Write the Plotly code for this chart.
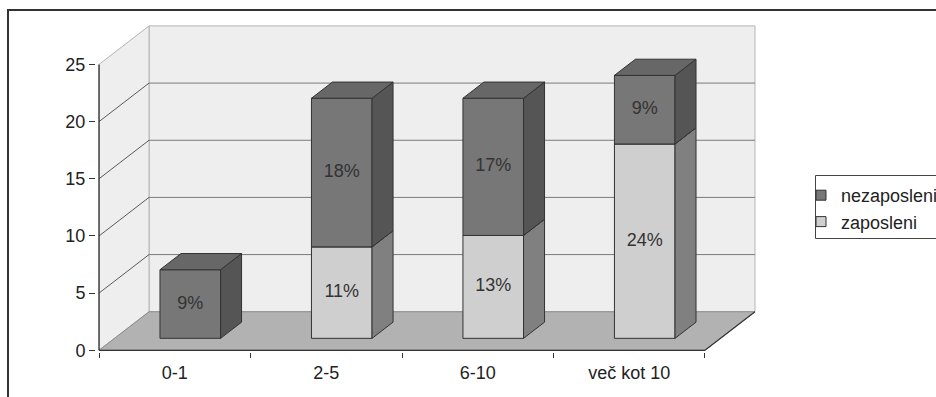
import plotly.graph_objects as go

# ---- data -------------------------------------------------------------
categories = ["0-1", "2-5", "6-10", "več kot 10"]
zaposleni = [0, 8, 9, 17]
nezaposleni = [6, 13, 12, 6]
pct_zaposleni = [None, 11, 13, 24]
pct_nezaposleni = [9, 18, 17, 9]
y_ticks = [0, 5, 10, 15, 20, 25]
y_max = 25

# ---- oblique 3-D projection settings ---------------------------------
OX = 0.33      # depth shift along x (category units)
OY = 3.37      # depth shift along y (value units)
F_FRONT = 0.31  # depth of the bars' front plane
F_BACK = 0.73   # depth of the bars' back plane
BAR_W = 0.40
X_LO, X_HI = -0.5, len(categories) - 0.5

FONT = "Liberation Sans, Arial, sans-serif"
EDGE = "#333333"

# page geometry (pixels)
W, H = 936, 397
ML, MR, MT, MB = 96, 178, 25, 45
PW, PH = W - ML - MR, H - MT - MB


def px_to_paper_x(px):
    return (px - ML) / PW


def px_to_paper_y(py):
    return (H - MB - py) / PH


styles = {
    "nezaposleni": dict(front="#777777", side="#555555", top="#676767"),
    "zaposleni": dict(front="#cfcfcf", side="#808080", top="#a8a8a8"),
}

fig = go.Figure()


def poly(xs, ys, fill, line_color=EDGE, width=1.0):
    fig.add_trace(go.Scatter(
        x=list(xs) + [xs[0]], y=list(ys) + [ys[0]],
        mode="lines", fill="toself", fillcolor=fill,
        line=dict(color=line_color, width=width),
        hoverinfo="skip", showlegend=False))


def seg(x0, y0, x1, y1, color, width=1.0):
    fig.add_trace(go.Scatter(
        x=[x0, x1], y=[y0, y1], mode="lines",
        line=dict(color=color, width=width),
        hoverinfo="skip", showlegend=False))


# walls and floor
poly([X_LO + OX, X_HI + OX, X_HI + OX, X_LO + OX],
     [OY, OY, y_max + OY, y_max + OY], "#eeeeee", "#b4b4b4")
poly([X_LO, X_LO + OX, X_LO + OX, X_LO],
     [0, OY, y_max + OY, y_max], "#eeeeee", "#b4b4b4")
poly([X_LO, X_HI, X_HI + OX, X_LO + OX],
     [0, 0, OY, OY], "#b2b2b2", "#8c8c8c")

# gridlines: back wall and side wall
for v in y_ticks[1:-1]:
    seg(X_LO + OX, v + OY, X_HI + OX, v + OY, "#7a7a7a")
    seg(X_LO, v, X_LO + OX, v + OY, "#333333", 0.8)

# front edges: value axis, category axis, right floor edge
seg(X_LO, 0, X_LO, y_max, EDGE, 1.3)
seg(X_LO, 0, X_HI, 0, EDGE, 1.3)
seg(X_HI, 0, X_HI + OX, OY, EDGE, 1.1)

# stacked 3-D bars
dd = F_BACK - F_FRONT
label_x, label_y, label_t = [], [], []
for i, cat in enumerate(categories):
    base = 0.0
    for name, vals, pcts in (("zaposleni", zaposleni, pct_zaposleni),
                             ("nezaposleni", nezaposleni, pct_nezaposleni)):
        v = vals[i]
        if not v:
            continue
        st = styles[name]
        x0 = i - BAR_W / 2 + F_FRONT * OX
        x1 = i + BAR_W / 2 + F_FRONT * OX
        y0 = base + F_FRONT * OY
        y1 = base + v + F_FRONT * OY
        poly([x0, x1, x1, x0], [y0, y0, y1, y1], st["front"])
        poly([x1, x1 + dd * OX, x1 + dd * OX, x1],
             [y0, y0 + dd * OY, y1 + dd * OY, y1], st["side"])
        poly([x0, x1, x1 + dd * OX, x0 + dd * OX],
             [y1, y1, y1 + dd * OY, y1 + dd * OY], st["top"])
        if pcts[i] is not None:
            label_x.append((x0 + x1) / 2)
            label_y.append((y0 + y1) / 2)
            label_t.append(f"{pcts[i]}%")
        base += v

fig.add_trace(go.Scatter(
    x=label_x, y=label_y, text=label_t, mode="text",
    textfont=dict(family=FONT, size=18, color="#333333"),
    hoverinfo="skip", showlegend=False))

# legend entries
for name in ("nezaposleni", "zaposleni"):
    fig.add_trace(go.Scatter(
        x=[None], y=[None], mode="markers", name=name,
        marker=dict(symbol="square", size=10, color=styles[name]["front"],
                    line=dict(color=EDGE, width=1))))

# carrier for the category labels axis
fig.add_trace(go.Scatter(
    x=list(range(len(categories))), y=[0] * len(categories), xaxis="x2",
    mode="markers", marker=dict(opacity=0), hoverinfo="skip",
    showlegend=False))

x_range = [-0.52, X_HI + OX + 0.02]
fig.update_layout(
    width=W, height=H,
    margin=dict(l=ML, r=MR, t=MT, b=MB, autoexpand=False),
    paper_bgcolor="white", plot_bgcolor="white",
    font=dict(family=FONT, size=18, color="#222222"),
    xaxis=dict(range=x_range, tickvals=[k - 0.5 for k in range(len(categories) + 1)],
               ticktext=[""] * (len(categories) + 1), ticks="outside",
               ticklen=5, tickcolor=EDGE, showgrid=False, zeroline=False,
               showline=False, fixedrange=True),
    xaxis2=dict(range=x_range, overlaying="x", anchor="y", side="bottom",
                tickvals=list(range(len(categories))), ticktext=categories,
                ticks="", showgrid=False, zeroline=False, showline=False,
                ticklabelstandoff=8,
                tickfont=dict(family=FONT, size=18, color="#222222")),
    yaxis=dict(range=[-0.15, 28.45], tickvals=y_ticks, ticks="outside",
               ticklen=6, tickcolor=EDGE, showgrid=False, zeroline=False,
               showline=False, tickfont=dict(family=FONT, size=18, color="#222222")),
    legend=dict(x=px_to_paper_x(801), y=px_to_paper_y(177),
                xanchor="left", yanchor="top",
                bgcolor="rgba(0,0,0,0)", borderwidth=0,
                font=dict(family=FONT, size=18, color="#222222"),
                itemwidth=30, tracegroupgap=0),
    shapes=[
        # outer chart frame
        dict(type="rect", xref="paper", yref="paper",
             x0=px_to_paper_x(8), x1=px_to_paper_x(W + 40),
             y0=px_to_paper_y(H + 40), y1=px_to_paper_y(10),
             line=dict(color="#333333", width=2)),
        # legend frame
        dict(type="rect", xref="paper", yref="paper", layer="below",
             x0=px_to_paper_x(815.5), x1=px_to_paper_x(W + 40),
             y0=px_to_paper_y(238.5), y1=px_to_paper_y(175.5),
             line=dict(color="#444444", width=1)),
    ],
    showlegend=True,
)

fig.write_html("out.html")
